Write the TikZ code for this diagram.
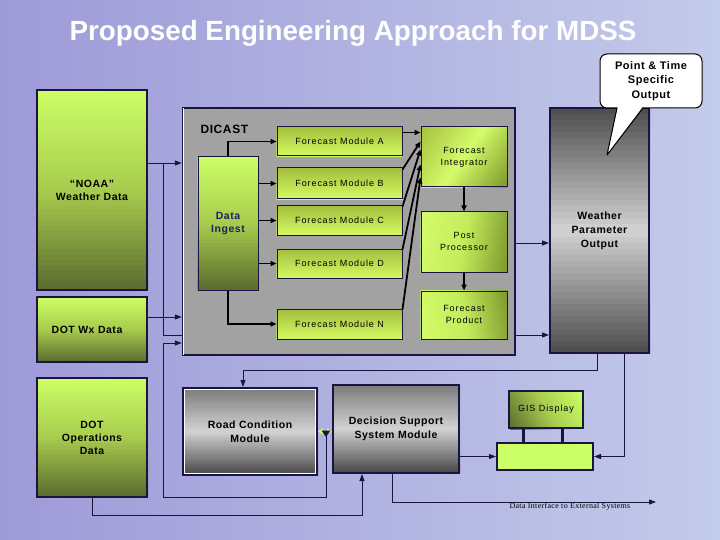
\documentclass[tikz,border=0pt]{standalone}
\usepackage{fontspec}
\setmainfont{Liberation Sans}
\newfontfamily\bsp[LetterSpace=5]{Liberation Sans}
\newfontfamily\rsp[LetterSpace=10]{Liberation Sans}
\newfontfamily\tsp[LetterSpace=4]{Liberation Serif}
\usetikzlibrary{arrows.meta}
\definecolor{navy}{HTML}{1A1440}
\definecolor{lgreen}{HTML}{CCFF66}
\definecolor{dgreen}{HTML}{5A6B2E}
\definecolor{mgreen}{HTML}{A8CC4E}
\definecolor{modtop}{HTML}{A3BC3C}
\definecolor{modmid}{HTML}{BCDC50}
\definecolor{modbot}{HTML}{D2FA60}
\definecolor{rlight}{HTML}{D4FC6A}
\definecolor{rmid}{HTML}{C4EC5C}
\definecolor{rolive}{HTML}{A6C03E}
\definecolor{rdark}{HTML}{7E9A2C}
\definecolor{bgone}{HTML}{9E9AD8}
\definecolor{bgtwo}{HTML}{C3CBEA}
\definecolor{dicgray}{HTML}{A2A2A2}
\definecolor{gdark}{HTML}{4C4C4C}
\definecolor{glight}{HTML}{D2D2D2}
\definecolor{gtop}{HTML}{7A7A7A}
\definecolor{gbot}{HTML}{484848}
\definecolor{inknavy}{HTML}{202060}
\pgfdeclarelayer{back}
\pgfdeclarelayer{grads}
\pgfsetlayers{back,grads,main}
% gradient painted behind a node: #1 node, #2 direction angle, #3 half length, #4 start, #5 middle, #6 end colour
\newcommand\gradbox[6]{%
  \begin{pgfonlayer}{grads}
  \begin{scope}
  \clip (#1.south west) rectangle (#1.north east);
  \begin{scope}[shift={(#1.center)}]
  \foreach \gi in {1,...,40}{%
    \pgfmathsetmacro\gT{(\gi-0.5)/40}%
    \pgfmathsetmacro\gP{100*min(2*\gT,1)}%
    \pgfmathsetmacro\gQ{100*max(2*\gT-1,0)}%
    \pgfmathsetmacro\sA{-#3+(\gi-1)*#3/20}%
    \pgfmathsetmacro\sB{-#3+\gi*#3/20+0.6}%
    \colorlet{gtmpa}{#5!\gP!#4}%
    \colorlet{gtmpb}{#6!\gQ!gtmpa}%
    \fill[gtmpb] ({\sA*cos(#2)+300*sin(#2)},{\sA*sin(#2)-300*cos(#2)}) -- ({\sA*cos(#2)-300*sin(#2)},{\sA*sin(#2)+300*cos(#2)}) -- ({\sB*cos(#2)-300*sin(#2)},{\sB*sin(#2)+300*cos(#2)}) -- ({\sB*cos(#2)+300*sin(#2)},{\sB*sin(#2)-300*cos(#2)}) -- cycle;
  }
  \end{scope}
  \end{scope}
  \end{pgfonlayer}}
\begin{document}
\begin{tikzpicture}[x=1pt,y=1pt,
  greenbox/.style={draw=navy, line width=2pt, inner sep=0pt, align=center, font=\bsp\bfseries\fontsize{10.5}{13}\selectfont},
  modbox/.style={draw=navy, line width=1pt, minimum width=125pt, inner sep=0pt, font=\rsp\fontsize{9}{11}\selectfont},
  rightbox/.style={draw=navy, line width=1pt, minimum width=86pt, inner sep=0pt, align=center, font=\rsp\fontsize{9}{12}\selectfont},
  graybox/.style={draw=navy, line width=2pt, inner sep=0pt, align=center, font=\bsp\bfseries\fontsize{10.5}{14}\selectfont},
  arr/.style={draw=navy, line width=0.9pt, -{Triangle[length=7pt,width=5pt]}},
  thinline/.style={draw=navy, line width=0.9pt},
  thk/.style={draw=black, line width=1.8pt, -{Triangle[length=6pt,width=5pt]}}
]
\useasboundingbox (0,-540) rectangle (720,0);
\begin{pgfonlayer}{back}
\shade[left color=bgone, right color=bgtwo] (0,-540) rectangle (720,0);
\end{pgfonlayer}

% title
\node[font=\bfseries\fontsize{27.8}{30}\selectfont, text=white] (title) at (353,-33) {Proposed Engineering Approach for MDSS};

% left data boxes
\node[greenbox, minimum width=110pt, minimum height=200pt] (noaa) at (92,-190) {“NOAA”\\Weather Data};
\gradbox{noaa}{-90}{100}{lgreen}{mgreen}{dgreen}
\node[greenbox, minimum width=110pt, minimum height=65pt] (dotwx) at (92,-329.5) {\hspace*{-10pt}DOT Wx Data};
\gradbox{dotwx}{-90}{32.5}{lgreen}{mgreen}{dgreen}
\node[greenbox, minimum width=110pt, minimum height=119pt] (dotops) at (92,-437.5) {DOT\\Operations\\Data};
\gradbox{dotops}{-90}{59.5}{lgreen}{mgreen}{dgreen}

% DICAST
\node[draw=navy, line width=2.5pt, minimum width=332pt, minimum height=247pt] (dicast) at (349,-231.5) {};
\begin{pgfonlayer}{back}
\fill[dicgray] (dicast.south west) rectangle (dicast.north east);
\end{pgfonlayer}
\draw[white, line width=1pt] ([xshift=2.2pt,yshift=-1.5pt]dicast.north west) -- ([xshift=2.2pt,yshift=1.5pt]dicast.south west);
\node[font=\bsp\bfseries\fontsize{12}{14}\selectfont, anchor=west] (diclabel) at (197,-129) {DICAST};

\node[greenbox, minimum width=60pt, minimum height=133pt, line width=1pt, text=inknavy] (ingest) at (228,-223.5) {Data\\Ingest};
\gradbox{ingest}{-90}{66.5}{lgreen}{mgreen}{dgreen}

\node[modbox, minimum height=29pt] (fma) at (339.5,-141.5) {Forecast Module A};
\node[modbox, minimum height=31pt] (fmb) at (339.5,-183.5) {Forecast Module B};
\node[modbox, minimum height=29pt] (fmc) at (339.5,-220.5) {Forecast Module C};
\node[modbox, minimum height=29pt] (fmd) at (339.5,-263.5) {Forecast Module D};
\node[modbox, minimum height=30pt] (fmn) at (339.5,-324) {Forecast Module N};
\gradbox{fma}{-90}{15}{modtop}{modmid}{modbot}
\gradbox{fmb}{-90}{15.5}{modtop}{modmid}{modbot}
\gradbox{fmc}{-90}{15}{modtop}{modmid}{modbot}
\gradbox{fmd}{-90}{15}{modtop}{modmid}{modbot}
\gradbox{fmn}{-90}{15}{modtop}{modmid}{modbot}

\node[rightbox, minimum height=60pt] (fint) at (464,-157) {Forecast\\Integrator};
\node[rightbox, minimum height=60pt] (ppr) at (464,-242) {\raisebox{-4pt}{\begin{tabular}{@{}c@{}}Post\\Processor\end{tabular}}};
\node[rightbox, minimum height=48pt] (fprod) at (464,-315) {\raisebox{6pt}{\begin{tabular}{@{}c@{}}Forecast\\Product\end{tabular}}};
\gradbox{fint}{-35}{52}{rolive}{rlight}{rdark}
\gradbox{ppr}{-10}{47}{rlight}{rmid}{rdark}
\gradbox{fprod}{10}{47}{rlight}{rmid}{rdark}

% DICAST internal connectors
\draw[thk] (ingest.north) |- (fma.west);
\draw[thk] (ingest.east |- fmb.west) -- (fmb.west);
\draw[thk] (ingest.east |- fmc.west) -- (fmc.west);
\draw[thk] (ingest.east |- fmd.west) -- (fmd.west);
\draw[thk] (ingest.south) |- (fmn.west);
\draw[thk] ([yshift=-6pt]fma.north east) -- ([yshift=-6pt]fint.north west);
\draw[thk] ([yshift=-2pt]fmb.north east) -- ([yshift=-15pt]fint.north west);
\draw[thk] ([yshift=-1pt]fmc.north east) -- ([yshift=-23pt]fint.north west);
\draw[thk] ([yshift=-1pt]fmd.north east) -- ([yshift=-38pt]fint.north west);
\draw[thk] ([yshift=-1pt]fmn.north east) -- ([yshift=-51pt]fint.north west);
\draw[thk] (fint.south) -- (ppr.north);
\draw[thk] (ppr.south) -- (fprod.north);

% weather parameter output
\node[graybox, minimum width=99pt, minimum height=245pt] (wpo) at (599.5,-230.5) {Weather\\Parameter\\Output};
\gradbox{wpo}{-90}{122.5}{gdark}{glight}{gdark}

% callout
\draw[fill=white, draw=black, line width=1pt, rounded corners=7pt] (600,-54) rectangle (702,-108);
\fill[white] (617.6,-107.2) -- (642.4,-107.2) -- (607,-155) -- cycle;
\draw[black, line width=1pt, line join=round] (617,-108) -- (607,-155) -- (643,-108);
\node[font=\bsp\bfseries\fontsize{11}{14.5}\selectfont, align=center] (callout) at (651,-81) {Point \& Time\\Specific\\Output};

% bottom row
\node[graybox, minimum width=134pt, minimum height=87pt] (road) at (250,-431.5) {Road Condition\\Module};
\gradbox{road}{-90}{43.5}{gtop}{glight}{gbot}
\draw[white, line width=1pt] ([xshift=2.8pt,yshift=-2.8pt]road.north west) rectangle ([xshift=-2.8pt,yshift=2.8pt]road.south east);
\node[graybox, minimum width=126pt, minimum height=88pt] (dss) at (396,-429) {\raisebox{6pt}{\begin{tabular}{@{}c@{}}Decision Support\\System Module\end{tabular}}};
\gradbox{dss}{-90}{44}{gtop}{glight}{gbot}
\node[draw=navy, line width=2pt, minimum width=74pt, minimum height=37pt, inner sep=0pt, font=\rsp\fontsize{9}{11}\selectfont] (gis) at (546,-409.5) {GIS Display};
\gradbox{gis}{30}{41}{dgreen}{mgreen}{lgreen}
\node[draw=navy, line width=2pt, fill=lgreen, minimum width=96pt, minimum height=27pt, inner sep=0pt] (gbase) at (545,-456.5) {};
\draw[navy, line width=3pt] ([xshift=-23pt]gis.south) -- ([xshift=-23pt]gis.south |- gbase.north);
\draw[navy, line width=3pt] ([xshift=16pt]gis.south) -- ([xshift=16pt]gis.south |- gbase.north);

% helper coordinates
\coordinate (jn) at (163,-163);
\coordinate (jl) at (163,-335);
\coordinate (jw) at (163,-317);
\coordinate (fbk) at (326,-436);
\coordinate (fbl) at (163,-497);
\coordinate (fbt) at (163,-343);
\coordinate (wa) at (515,-243);
\coordinate (wb) at (515,-335);
\coordinate (ext) at (656,-502);

% connectors
\draw[arr] (noaa.east |- jn) -- (dicast.west |- jn);
\draw[thinline] (jn) -- (jl) -- (dicast.west |- jl);
\draw[arr] (dotwx.east |- jw) -- (dicast.west |- jw);
\draw[arr] (fbk) |- (fbl) -- (fbt) -- (dicast.west |- fbt);
\draw[arr] (dotops.south) -- ++(0,-17) -| ([xshift=-34pt]dss.south);
\draw[arr] (dicast.east |- wa) -- (wpo.west |- wa);
\draw[arr] (dicast.east |- wb) -- (wpo.west |- wb);
\draw[arr] ([xshift=-2.5pt]wpo.south) -- ++(0,-16) -| ([xshift=-7pt]road.north);
\draw[arr] ([xshift=24.5pt]wpo.south) |- (gbase.east);
\draw[arr] (dss.east |- gbase.west) -- (gbase.west);
\draw[arr] ([xshift=-4pt]dss.south) |- (ext);
\draw[lgreen, line width=2pt, {Triangle[length=5pt,width=6pt]}-{Triangle[length=5pt,width=6pt]}] (road.east) -- (dss.west |- road.east);
\fill[navy] (321.5,-430.5) -- (330.5,-430.5) -- (326,-437) -- cycle;
\node[font=\tsp\fontsize{8}{9}\selectfont, anchor=west] (extlabel) at (506,-507) {Data Interface to External Systems};
\end{tikzpicture}
\end{document}
